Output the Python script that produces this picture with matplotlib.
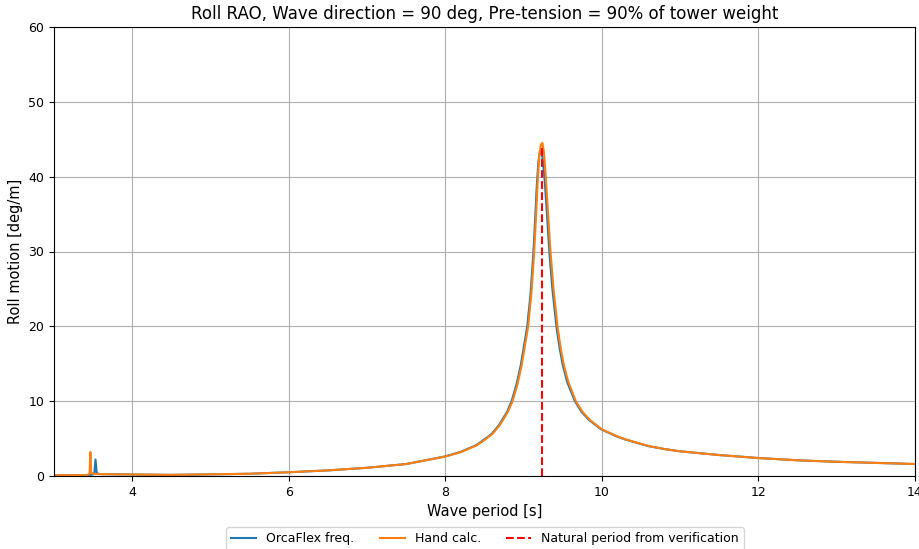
import matplotlib
matplotlib.use("Agg")
import matplotlib.pyplot as plt

# Wave period [s] and roll RAO [deg/m]
period_orca = [3.0, 3.40, 3.50, 3.515, 3.53, 3.545, 3.56, 3.6, 4.0, 4.5, 5.0, 5.5, 6.0, 6.5,
               7.0, 7.5, 7.99, 8.19, 8.39, 8.47, 8.59, 8.685, 8.79, 8.846, 8.908, 8.963,
               9.046, 9.088, 9.123, 9.148, 9.168, 9.188, 9.208, 9.225, 9.245, 9.271,
               9.298, 9.331, 9.368, 9.421, 9.458, 9.498, 9.558, 9.655, 9.738, 9.833,
               9.99, 10.176, 10.29, 10.59, 10.8, 11.0, 11.5, 12.0, 12.5, 13.0, 13.5, 14.0]
roll_orca = [0.1, 0.1, 0.2, 0.4, 2.2, 0.5, 0.3, 0.25, 0.2, 0.15, 0.22, 0.3, 0.5, 0.75,
             1.1, 1.6, 2.6, 3.2, 4.1, 4.68, 5.6, 6.8, 8.6, 10.0, 12.2, 14.8,
             20.0, 24.3, 29.6, 34.5, 38.8, 41.9, 43.4, 43.5, 42.2, 39.2,
             35.0, 29.6, 24.9, 19.8, 17.2, 14.9, 12.5, 10.0, 8.6, 7.5,
             6.24, 5.35, 4.9, 4.0, 3.6, 3.3, 2.8, 2.4, 2.1, 1.9, 1.75, 1.6]

period_hand = [3.0, 3.40, 3.445, 3.455, 3.465, 3.475, 3.49, 3.6, 4.0, 4.5, 5.0, 5.5, 6.0, 6.5,
               7.0, 7.5, 8.0, 8.2, 8.4, 8.483, 8.6, 8.696, 8.8, 8.858, 8.92, 8.975,
               9.058, 9.1, 9.135, 9.16, 9.18, 9.2, 9.22, 9.24, 9.26, 9.283,
               9.31, 9.343, 9.38, 9.433, 9.47, 9.51, 9.57, 9.667, 9.75, 9.845,
               10.0, 10.186, 10.3, 10.6, 10.8, 11.0, 11.5, 12.0, 12.5, 13.0, 13.5, 14.0]
roll_hand = [0.1, 0.1, 0.2, 0.5, 3.2, 0.5, 0.3, 0.25, 0.2, 0.15, 0.22, 0.3, 0.5, 0.75,
             1.1, 1.6, 2.6, 3.2, 4.1, 4.68, 5.6, 6.8, 8.6, 10.0, 12.2, 14.8,
             20.0, 24.5, 30.0, 35.0, 39.5, 42.8, 44.3, 44.5, 43.2, 40.0,
             35.5, 30.0, 25.2, 20.0, 17.3, 15.0, 12.6, 10.0, 8.6, 7.5,
             6.24, 5.35, 4.9, 4.0, 3.6, 3.3, 2.8, 2.4, 2.1, 1.9, 1.75, 1.6]

natural_period = 9.23
natural_top = 44.0

fig = plt.figure(figsize=(9.2, 5.49), dpi=100)
ax = fig.add_axes([54 / 920, 1 - 476 / 549, (915 - 54) / 920, (476 - 27) / 549])

ax.plot(period_orca, roll_orca, color="tab:blue", lw=1.5, label="OrcaFlex freq.")
ax.plot(period_hand, roll_hand, color="tab:orange", lw=1.5, label="Hand calc.")
ax.vlines(natural_period, 0, natural_top, colors="r", linestyles="--", lw=1.5,
          label="Natural period from verification")

ax.set_xlim(3, 14)
ax.set_ylim(0, 60)
ax.set_xticks([4, 6, 8, 10, 12, 14])
ax.set_yticks(range(0, 61, 10))
ax.tick_params(labelsize=9)
ax.grid(True)
ax.set_xlabel("Wave period [s]", fontsize=10.5)
ax.set_ylabel("Roll motion [deg/m]", fontsize=10.5)
ax.set_title("Roll RAO, Wave direction = 90 deg, Pre-tension = 90% of tower weight",
             fontsize=12)

fig.legend(loc="upper center", bbox_to_anchor=(485 / 920, 1 - 527 / 549), ncol=3,
           fontsize=9, borderaxespad=0)

fig.savefig("out.png", dpi=100)
